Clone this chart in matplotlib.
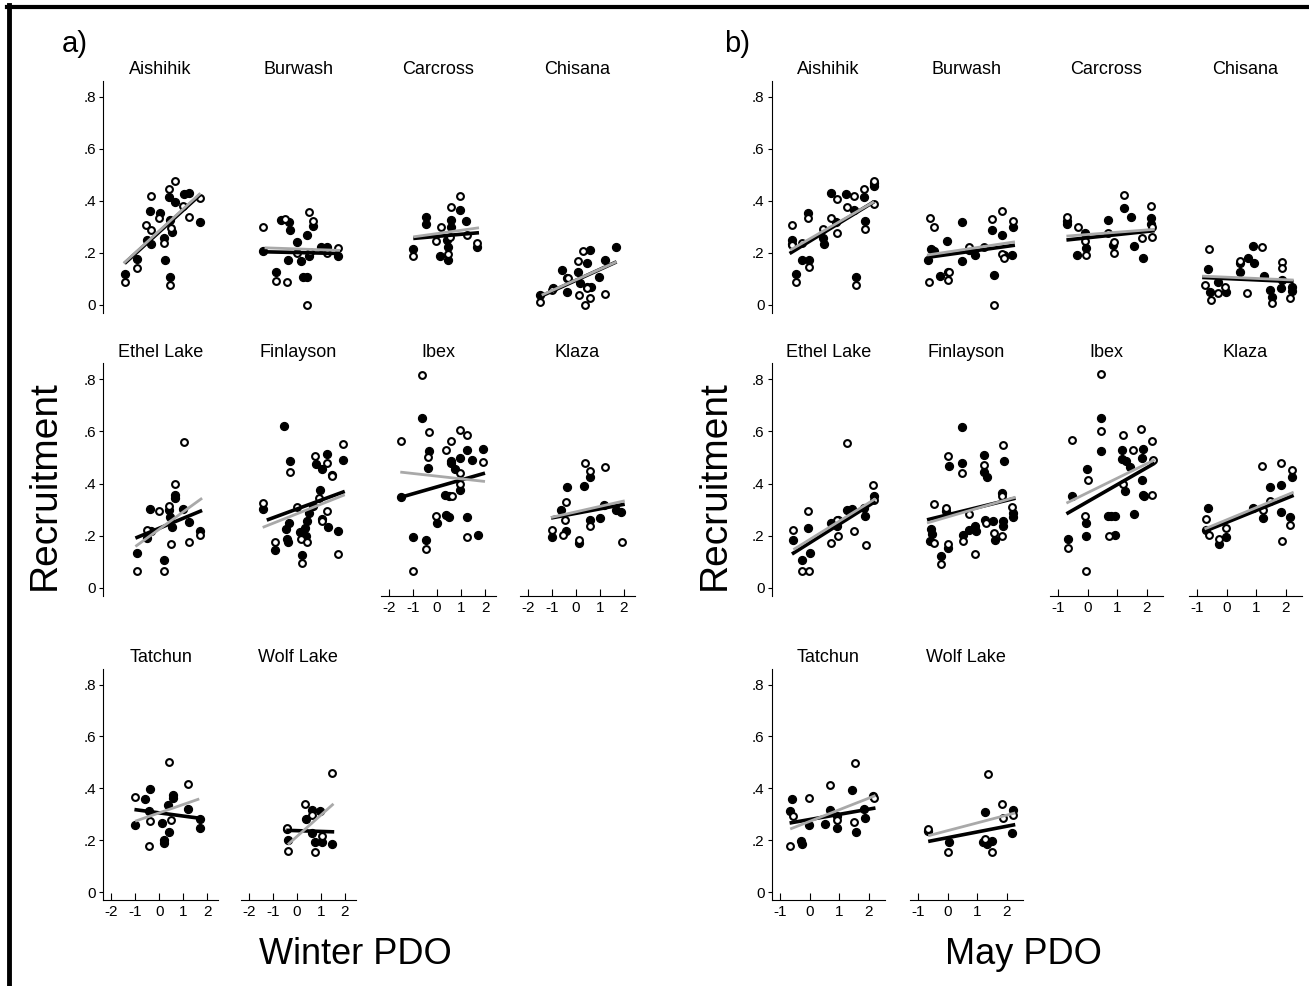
import matplotlib
matplotlib.use("Agg")
import matplotlib.pyplot as plt
from matplotlib.lines import Line2D

plt.rcParams['font.family'] = ['Liberation Sans', 'DejaVu Sans']
plt.rcParams['axes.unicode_minus'] = False

populations = ['Aishihik', 'Burwash', 'Carcross', 'Chisana',
               'Ethel Lake', 'Finlayson', 'Ibex', 'Klaza',
               'Tatchun', 'Wolf Lake']
y_ticks = [0, 0.2, 0.4, 0.6, 0.8]
y_ticklabels = ['0', '.2', '.4', '.6', '.8']
winter_xticks = [-2, -1, 0, 1, 2]
may_xticks = [-1, 0, 1, 2]

# ---- a) Winter PDO : (pdo, recruitment), filled / open circles
w_aishihik_filled = [(-1.42, .12), (-.93, .177), (-.375, .362), (.01, .352), (-.51, .25), (-.33, .233),
                     (.22, .173), (.43, .109), (.42, .416), (.64, .397), (.46, .326), (.53, .282),
                     (.18, .256), (1.01, .426), (1.22, .431), (1.68, .32)]
w_aishihik_open = [(-1.42, .087), (-.93, .143), (-.35, .42), (-.54, .307), (-.33, .288), (0, .333),
                   (.21, .24), (.39, .448), (.64, .478), (.43, .077), (.97, .382), (1.24, .337),
                   (1.71, .41), (.49, .295)]
w_burwash_filled = [(-1.43, .209), (-.875, .128), (-.68, .326), (-.32, .32), (-.29, .288), (-.39, .175),
                    (.01, .243), (.15, .169), (.40, .269), (.24, .109), (.43, .109), (.65, .303),
                    (.51, .19), (.99, .224), (1.24, .222), (1.72, .19)]
w_burwash_open = [(-1.40, .30), (-.89, .093), (-.40, .087), (-.51, .329), (.01, .20), (.51, .358),
                  (.67, .324), (.54, .205), (1.24, .20), (1.72, .22), (.40, 0)]
w_carcross_filled = [(-.99, .214), (-.47, .337), (-.44, .311), (.13, .188), (.47, .175), (.47, .224),
                     (.57, .326), (.57, .30), (.96, .367), (1.21, .324), (1.65, .222), (.43, .25)]
w_carcross_open = [(-.99, .19), (.15, .30), (-.04, .246), (.47, .198), (.57, .378), (.96, .42),
                   (1.24, .27), (1.68, .24), (.54, .262)]
w_chisana_filled = [(-1.5, .038), (-.97, .064), (-.57, .134), (-.36, .105), (-.39, .051), (.1, .128),
                    (.44, .16), (.58, .211), (.63, .07), (.47, .07), (.97, .109), (1.21, .175),
                    (1.67, .224), (.17, .083)]
w_chisana_open = [(-1.5, .013), (-1.01, .058), (.10, .169), (.31, .209), (.14, .038), (.38, 0),
                  (.58, .026), (.44, .064), (1.21, .041), (-.35, .105)]
w_ethel_filled = [(-.93, .134), (-.375, .302), (-.51, .19), (-.35, .22), (.21, .106), (.39, .30),
                  (.46, .27), (.53, .232), (.64, .357), (.64, .345), (.97, .302), (1.25, .251),
                  (1.71, .217)]
w_ethel_open = [(-.93, .064), (-.51, .223), (0, .296), (.21, .064), (.39, .315), (.49, .168),
                (.64, .398), (1.01, .559), (1.25, .175), (1.71, .204)]
w_finlayson_filled = [(-1.43, .302), (-.92, .147), (-.54, .621), (-.46, .226), (-.43, .189), (-.36, .176),
                      (-.29, .485), (-.32, .249), (.125, .213), (.19, .128), (.33, .23), (.375, .198),
                      (.43, .255), (.51, .287), (.68, .313), (.78, .474), (.96, .376), (1.03, .455),
                      (1.24, .513), (1.44, .431), (1.28, .233), (1.72, .219), (1.93, .491), (1.03, .263)]
w_finlayson_open = [(-1.43, .325), (-.92, .175), (-.29, .446), (-.01, .31), (.17, .188), (.40, .175),
                    (.19, .096), (.75, .504), (.93, .344), (1.03, .255), (1.24, .478), (1.26, .293),
                    (1.44, .43), (1.72, .131), (1.93, .551)]
w_ibex_filled = [(-1.49, .348), (-.62, .653), (-.34, .523), (-.37, .459), (-1.0, .195), (-.46, .185),
                 (-.01, .249), (.34, .357), (.48, .351), (.38, .281), (.51, .27), (.59, .487),
                 (.59, .478), (.73, .457), (.97, .497), (.97, .376), (1.23, .529), (1.23, .272),
                 (1.44, .491), (1.70, .204), (1.93, .532)]
w_ibex_open = [(-.62, .816), (-1.49, .564), (-.34, .599), (-.37, .50), (-.46, .149), (-1.0, .064),
               (-.04, .274), (.38, .527), (.59, .564), (.62, .353), (.94, .605), (1.23, .587),
               (.97, .44), (.97, .398), (1.25, .195), (1.93, .482)]
w_klaza_filled = [(-1.0, .194), (-.61, .30), (-.43, .219), (-.37, .385), (.14, .172), (.34, .389),
                  (.6, .427), (.6, .261), (.99, .268), (1.67, .30), (1.89, .29), (1.17, .316)]
w_klaza_open = [(-1.0, .223), (-.54, .204), (-.4, .329), (-.47, .261), (.14, .185), (.36, .478),
                (.6, .449), (.6, .236), (1.2, .462), (1.93, .176)]
w_tatchun_filled = [(-1.01, .26), (-.59, .36), (-.41, .397), (-.45, .311), (.11, .266), (.18, .202),
                    (.18, .189), (.35, .334), (.39, .23), (.58, .376), (.58, .363), (1.21, .322),
                    (1.70, .247), (1.69, .283)]
w_tatchun_open = [(-1.01, .365), (-.41, .273), (-.45, .176), (.39, .50), (.49, .279), (1.21, .418)]
w_wolf_filled = [(-.42, .244), (-.38, .199), (.39, .282), (.61, .318), (.63, .228), (.75, .193),
                 (.96, .311), (1.03, .193), (1.45, .186)]
w_wolf_open = [(-.42, .247), (-.38, .157), (.35, .34), (.63, .298), (.75, .153), (1.03, .216),
               (1.45, .459)]

# fitted lines per population: (x start, x end, y start, y end)
w_fit_filled = [(-1.45, 1.71, .16, .425), (-1.54, 1.79, .205, .198), (-.99, 1.75, .256, .278),
                (-1.5, 1.69, .032, .166), (-1.0, 1.78, .191, .297), (-1.26, 1.99, .26, .37),
                (-1.49, 2.0, .348, .44), (-1.04, 2.03, .268, .321), (-1.04, 1.8, .318, .283),
                (-.45, 1.55, .238, .232)]
w_fit_open = [(-1.49, 1.71, .16, .43), (-1.35, 1.79, .22, .21), (-.99, 1.75, .262, .297),
              (-1.43, 1.69, .038, .166), (-1.0, 1.78, .159, .344), (-1.43, 1.99, .232, .357),
              (-1.53, 2.0, .444, .408), (-1.04, 2.03, .27, .334), (-1.01, 1.66, .273, .359),
              (-.38, 1.52, .183, .34)]

# ---- b) May PDO
m_aishihik_filled = [(-.61, .25), (-.61, .234), (-.47, .119), (-.28, .175), (-.02, .175), (-.08, .352),
                     (.48, .233), (.44, .256), (.70, .431), (.89, .32), (1.22, .426), (1.48, .367),
                     (1.56, .109), (1.83, .416), (1.86, .324), (2.17, .47), (2.17, .457)]
m_aishihik_open = [(-.61, .307), (-.61, .23), (-.28, .24), (-.47, .087), (-.02, .145), (-.08, .333),
                   (.44, .292), (.70, .335), (.91, .407), (.91, .278), (1.24, .378), (1.48, .42),
                   (1.56, .077), (1.83, .448), (1.87, .292), (2.17, .39), (2.17, .476)]
m_burwash_filled = [(-.66, .175), (-.58, .215), (-.47, .207), (-.27, .111), (-.04, .247), (.01, .128),
                    (.46, .32), (.49, .169), (.73, .211), (.9, .192), (1.49, .288), (1.57, .115),
                    (1.84, .269), (1.9, .192), (2.18, .192), (2.2, .30)]
m_burwash_open = [(-.62, .333), (-.49, .30), (-.63, .09), (.01, .096), (.03, .128), (.73, .224),
                  (1.23, .224), (1.48, .329), (1.84, .362), (1.84, .198), (1.9, .179), (2.2, .324),
                  (1.57, 0)]
m_carcross_filled = [(-.71, .324), (-.71, .311), (-.11, .278), (-.08, .218), (-.38, .192), (.68, .326),
                     (.85, .23), (1.22, .375), (1.45, .339), (1.56, .228), (1.86, .182), (2.15, .333),
                     (2.15, .311)]
m_carcross_open = [(-.71, .339), (-.34, .301), (-.11, .247), (-.06, .192), (.68, .278), (.87, .2),
                   (.87, .243), (1.22, .423), (1.84, .256), (2.12, .38), (2.18, .262), (2.18, .301)]
m_chisana_filled = [(-.64, .137), (-.59, .051), (-.31, .09), (-.02, .051), (.45, .128), (.45, .16),
                    (.71, .179), (.88, .227), (.92, .16), (1.25, .111), (1.45, .058), (1.54, .032),
                    (1.82, .067), (1.88, .096), (2.21, .07), (2.21, .055)]
m_chisana_open = [(-.61, .214), (-.73, .077), (-.53, .019), (-.31, .045), (-.05, .068), (.45, .17),
                  (.68, .047), (1.2, .224), (1.54, .006), (1.88, .164), (1.88, .143), (2.14, .026)]
m_ethel_filled = [(-.58, .182), (-.28, .106), (-.06, .23), (0, .134), (.72, .249), (.91, .236),
                  (.94, .261), (1.26, .30), (1.42, .304), (1.83, .306), (1.87, .274), (2.17, .353)]
m_ethel_open = [(-.58, .223), (-.28, .064), (-.02, .064), (-.08, .296), (.72, .172), (.91, .261),
                (.94, .20), (1.26, .555), (1.5, .219), (1.89, .166), (2.13, .393), (2.17, .338)]
m_finlayson_filled = [(-.58, .226), (-.62, .179), (-.54, .207), (-.24, .121), (-.07, .293), (.01, .153),
                      (.03, .469), (.49, .615), (.49, .478), (.51, .204), (.73, .223), (.9, .236),
                      (.96, .217), (1.23, .51), (1.23, .446), (1.34, .427), (1.27, .261), (1.51, .255),
                      (1.6, .185), (1.82, .364), (1.87, .258), (1.88, .236), (1.9, .485), (2.2, .287),
                      (2.2, .27)]
m_finlayson_open = [(-.49, .321), (-.49, .172), (-.24, .092), (.01, .504), (-.07, .306), (.01, .168),
                    (.46, .44), (.51, .181), (.71, .283), (.93, .13), (1.23, .472), (1.29, .249),
                    (1.57, .21), (1.84, .198), (1.84, .351), (1.87, .548), (2.18, .309)]
m_ibex_filled = [(-.68, .189), (-.53, .351), (-.03, .457), (-.08, .249), (-.06, .198), (.45, .653),
                 (.43, .526), (.68, .274), (.79, .274), (.9, .274), (.93, .204), (1.17, .529),
                 (1.17, .495), (1.3, .487), (1.24, .372), (1.44, .462), (1.56, .283), (1.86, .532),
                 (1.84, .497), (1.84, .415), (1.86, .357), (1.89, .351)]
m_ibex_open = [(-.68, .153), (-.53, .568), (-.11, .277), (0, .415), (-.06, .064), (.45, .819),
               (.43, .602), (.71, .198), (1.19, .587), (1.19, .398), (1.53, .529), (1.81, .608),
               (2.18, .564), (2.18, .355), (2.2, .491)]
m_klaza_filled = [(-.64, .306), (-.7, .223), (-.27, .17), (-.02, .194), (.88, .306), (1.22, .268),
                  (1.45, .386), (1.82, .395), (1.82, .29), (2.15, .27), (2.21, .427)]
m_klaza_open = [(-.7, .264), (-.62, .204), (-.27, .189), (-.02, .23), (1.2, .466), (1.22, .30),
                (1.45, .332), (1.84, .478), (1.86, .179), (2.21, .453), (2.15, .24)]
m_tatchun_filled = [(-.69, .311), (-.61, .359), (-.31, .198), (-.28, .186), (-.02, .26), (.5, .262),
                    (.69, .318), (.91, .247), (.91, .292), (1.44, .392), (1.56, .23), (1.83, .32),
                    (1.87, .286), (2.14, .372)]
m_tatchun_open = [(-.67, .176), (-.58, .295), (-.03, .363), (.69, .414), (.91, .279), (1.53, .498),
                  (1.48, .27), (2.17, .363)]
m_wolf_filled = [(-.67, .234), (.02, .192), (1.24, .309), (1.18, .192), (1.31, .186), (1.49, .195),
                 (2.19, .318), (2.17, .228)]
m_wolf_open = [(-.67, .243), (0, .154), (1.35, .457), (1.24, .205), (1.48, .154), (1.83, .34),
               (1.85, .286), (2.21, .298)]

m_fit_filled = [(-.69, 2.17, .198, .397), (-.71, 2.27, .183, .23), (-.73, 2.26, .25, .286),
                (-.84, 2.26, .106, .09), (-.61, 2.22, .13, .332), (-.71, 2.29, .261, .344),
                (-.73, 2.26, .284, .478), (-.76, 2.26, .217, .355), (-.69, 2.22, .266, .324),
                (-.67, 2.28, .195, .26)]
m_fit_open = [(-.67, 2.17, .211, .397), (-.71, 2.27, .192, .243), (-.73, 2.26, .265, .291),
              (-.84, 2.26, .111, .096), (-.56, 2.22, .147, .342), (-.71, 2.29, .249, .348),
              (-.73, 2.26, .325, .491), (-.76, 2.26, .226, .367), (-.67, 2.22, .243, .372),
              (-.67, 2.28, .217, .305)]

winter_points = [(w_aishihik_filled, w_aishihik_open), (w_burwash_filled, w_burwash_open),
                 (w_carcross_filled, w_carcross_open), (w_chisana_filled, w_chisana_open),
                 (w_ethel_filled, w_ethel_open), (w_finlayson_filled, w_finlayson_open),
                 (w_ibex_filled, w_ibex_open), (w_klaza_filled, w_klaza_open),
                 (w_tatchun_filled, w_tatchun_open), (w_wolf_filled, w_wolf_open)]
may_points = [(m_aishihik_filled, m_aishihik_open), (m_burwash_filled, m_burwash_open),
              (m_carcross_filled, m_carcross_open), (m_chisana_filled, m_chisana_open),
              (m_ethel_filled, m_ethel_open), (m_finlayson_filled, m_finlayson_open),
              (m_ibex_filled, m_ibex_open), (m_klaza_filled, m_klaza_open),
              (m_tatchun_filled, m_tatchun_open), (m_wolf_filled, m_wolf_open)]

W, H = 1309, 986
fig = plt.figure(figsize=(W / 100, H / 100), dpi=100)

row_top = [81.4, 363.5, 669.0]
row_h = [231.4, 232.3, 230.8]
ylim = (-0.03, 0.86)


def add_ax(left, top, width, height):
    return fig.add_axes([left / W, 1 - (top + height) / H, width / W, height / H])


def draw_panel(points, fit_f, fit_o, lefts, width, xlim, xticks):
    for i, name in enumerate(populations):
        r, c = divmod(i, 4)
        ax = add_ax(lefts[c], row_top[r], width, row_h[r])
        ax.set_xlim(*xlim)
        ax.set_ylim(*ylim)
        ax.patch.set_alpha(0)
        for s in ['top', 'right']:
            ax.spines[s].set_visible(False)

        filled, hollow = points[i]
        fx, fy = zip(*filled)
        ox, oy = zip(*hollow)
        ax.scatter(fx, fy, s=32, color='black', zorder=3, clip_on=False)
        ax.scatter(ox, oy, s=24, facecolors='white', edgecolors='black',
                   linewidths=1.5, zorder=3, clip_on=False)

        x0, x1, y0, y1 = fit_f[i]
        ax.plot([x0, x1], [y0, y1], color='black', lw=2.6, zorder=4, solid_capstyle='butt')
        x0, x1, y0, y1 = fit_o[i]
        ax.plot([x0, x1], [y0, y1], color='#a9a9a9', lw=2.0, zorder=5, solid_capstyle='butt')

        ax.set_title(name, fontsize=13, pad=5)

        if c == 0:
            ax.set_yticks(y_ticks)
            ax.set_yticklabels(y_ticklabels)
            ax.tick_params(axis='y', direction='out', length=3, labelsize=11, pad=2)
        else:
            ax.spines['left'].set_visible(False)
            ax.tick_params(axis='y', left=False, labelleft=False)

        if i >= 6:
            ax.set_xticks(xticks)
            ax.set_xticklabels([str(t) for t in xticks])
            ax.tick_params(axis='x', direction='in', length=5, labelsize=11, pad=4)
        else:
            ax.spines['bottom'].set_visible(False)
            ax.tick_params(axis='x', bottom=False, labelbottom=False)


draw_panel(winter_points, w_fit_filled, w_fit_open,
           [103.0, 240.6, 380.6, 519.6], 115.2, (-2.35, 2.45), winter_xticks)
draw_panel(may_points, m_fit_filled, m_fit_open,
           [771.6, 909.6, 1049.6, 1188.6], 113.6, (-1.3, 2.55), may_xticks)

fig.text(75 / W, 1 - 44 / H, 'a)', fontsize=21, ha='center', va='center')
fig.text(737 / W, 1 - 44 / H, 'b)', fontsize=21, ha='center', va='center')
fig.text(45 / W, 1 - 485 / H, 'Recruitment', rotation=90, fontsize=28, ha='center', va='center')
fig.text(715 / W, 1 - 485 / H, 'Recruitment', rotation=90, fontsize=28, ha='center', va='center')
fig.text(355 / W, 1 - 955 / H, 'Winter PDO', fontsize=26, ha='center', va='center')
fig.text(1023 / W, 1 - 955 / H, 'May PDO', fontsize=26, ha='center', va='center')

# frame lines along top and left edge
fig.add_artist(Line2D([7 / W, 1], [1 - 7 / H, 1 - 7 / H], color='black', lw=3))
fig.add_artist(Line2D([9 / W, 9 / W], [0, 1 - 5 / H], color='black', lw=3.5))

fig.savefig('out.png', dpi=100)
